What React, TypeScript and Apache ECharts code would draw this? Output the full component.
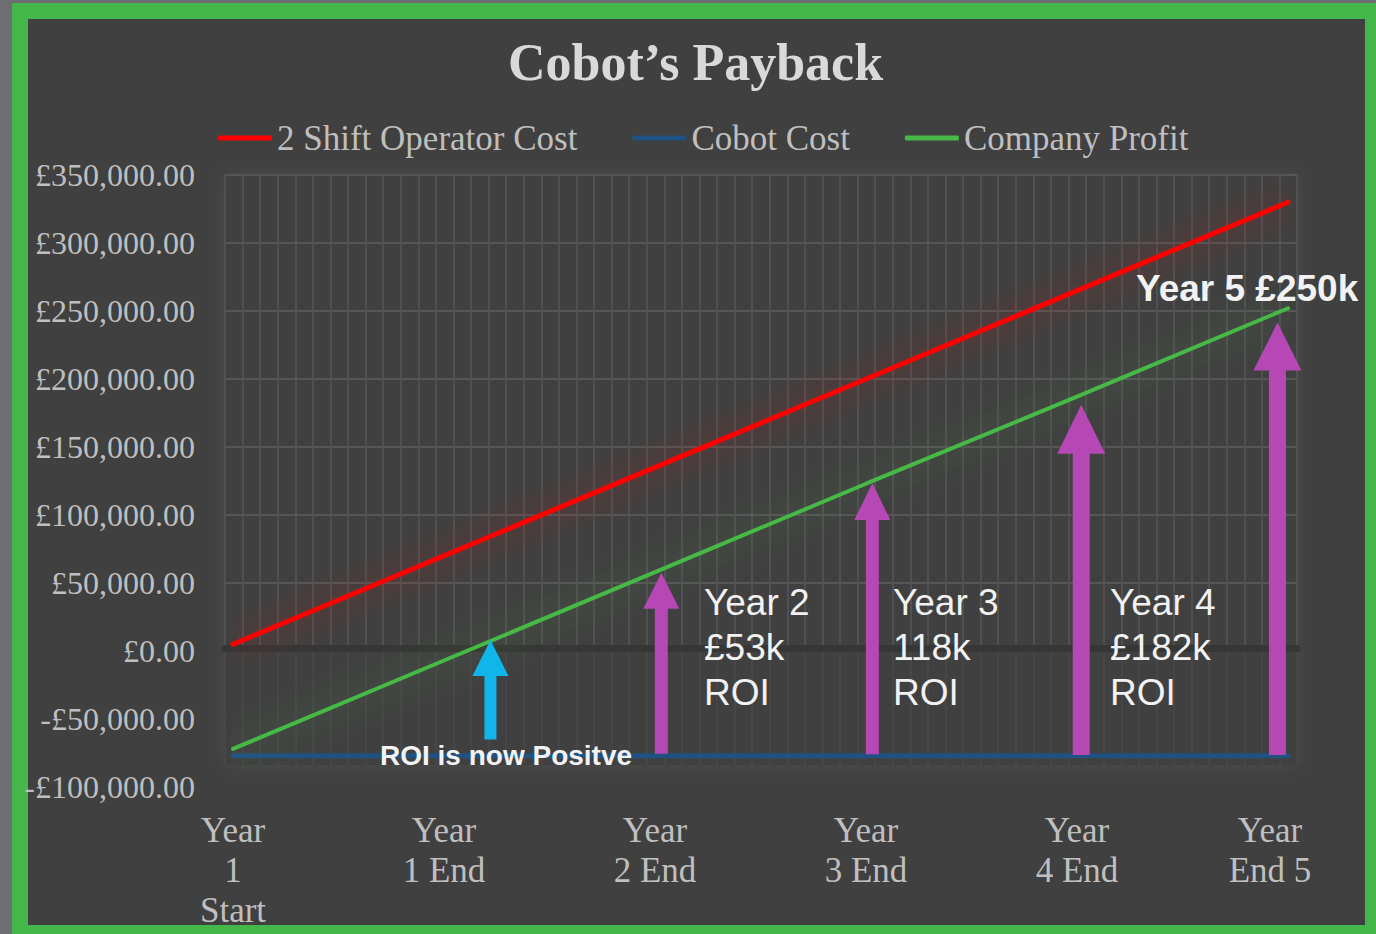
import React, { useEffect, useRef } from "react";
import * as echarts from "echarts";

const categories = ["Year\n1\nStart", "Year\n1 End", "Year\n2 End", "Year\n3 End", "Year\n4 End", "Year\nEnd 5"];
const seriesNames = ["2 Shift Operator Cost", "Cobot Cost", "Company Profit"];
const operatorCost = [5000, 70000, 135000, 200000, 265000, 330000];
const cobotCost = [-77000, -77000, -77000, -77000, -77000, -77000];
const companyProfit = [-72000, -7000, 58000, 123000, 187000, 252000];
const yTicks = { min: -100000, max: 350000, step: 50000 };

// annotation arrows: x position (in year units), start value, tip value
const arrowX = [1.22, 2.03, 3.03, 4.02, 4.95];
const arrowFrom = [-65000, -75500, -76000, -76500, -76500];
const arrowTo = [8000, 57500, 123500, 181000, 241500];

const annotationTexts = ["Year 2\n£53k\nROI", "Year 3\n118k\nROI", "Year 4\n£182k\nROI"];
const year5Text = "Year 5 £250k";
const roiText = "ROI is now Positve";

const SERIF = "'Liberation Serif', 'Times New Roman', serif";
const SANS = "'Liberation Sans', Arial, sans-serif";
const LABEL = "#bfbfbf";

const arrowColors = ["#10b6ea", "#b548b5", "#b548b5", "#b548b5", "#b548b5"];
const shaftW = [12, 13, 13, 17, 17];
const headW = [36, 36, 36, 48, 48];
const headH = [36, 36, 37, 49, 48];

function money(v: number) {
  const a = Math.abs(v);
  const s = String(Math.round(a)).replace(/\B(?=(\d{3})+(?!\d))/g, ",");
  return (v < 0 ? "-" : "") + "£" + s + ".00";
}

export default function App() {
  const ref = useRef<HTMLDivElement>(null);
  useEffect(() => {
    if (!ref.current) return;
    const chart = echarts.init(ref.current, undefined, { renderer: "svg" });
    const xs = categories.map((_, i) => i);
    const option: any = {
      animation: false,
      backgroundColor: "transparent",
      title: {
        text: "Cobot’s Payback",
        left: 508,
        top: 32,
        padding: 0,
        textStyle: { fontFamily: SERIF, fontSize: 52, fontWeight: "bold", color: "#d9d9d9", lineHeight: 60 },
      },
      legend: {
        data: seriesNames,
        left: 218,
        top: 119,
        padding: 0,
        icon: "roundRect",
        itemWidth: 54,
        itemHeight: 5,
        itemGap: 55,
        textStyle: { fontFamily: SERIF, fontSize: 35, color: LABEL, lineHeight: 38 },
      },
      graphic: [
        {
          type: "rect",
          z: -10,
          shape: { x: 225, y: 175, width: 1072, height: 590 },
          style: { fill: "#404040", shadowBlur: 18, shadowColor: "rgba(255,255,255,0.07)" },
          silent: true,
        },
        ...annotationTexts.map((t, i) => ({
          type: "text",
          left: [704, 893, 1110][i],
          top: 580,
          z: 50,
          style: { text: t, font: `37px ${SANS}`, fill: "#f2f2f2", lineHeight: 45 },
        })),
        {
          type: "text",
          left: 1136,
          top: 267,
          z: 50,
          style: { text: year5Text, font: `bold 37px ${SANS}`, fill: "#f2f2f2", lineHeight: 42 },
        },
        {
          type: "text",
          left: 380,
          top: 739,
          z: 50,
          style: { text: roiText, font: `bold 28px ${SANS}`, fill: "#f2f2f2", lineHeight: 32 },
        },
      ],
      grid: [
        { left: 233, right: 88, top: 175, bottom: 147 },
        { left: 225, right: 79, top: 175, height: 476 },
        { left: 225, right: 79, top: 651, height: 114 },
      ],
      xAxis: [
        {
          type: "value",
          gridIndex: 0,
          min: 0,
          max: 5,
          interval: 1,
          splitLine: { show: false },
          axisLine: { show: false },
          axisTick: { show: false },
          axisLabel: {
            margin: 23,
            fontFamily: SERIF,
            fontSize: 35,
            lineHeight: 40,
            color: LABEL,
            formatter: (v: number) => {
              const t = categories[Math.round(v)] ?? "";
              if (Math.round(v) === categories.length - 1) {
                return t.split("\n").map((s) => `{s|${s}}`).join("\n");
              }
              return t;
            },
            rich: {
              s: { fontFamily: SERIF, fontSize: 35, lineHeight: 40, color: LABEL, padding: [0, 36, 0, 0] },
            },
          },
        },
        {
          type: "value",
          gridIndex: 1,
          min: 0,
          max: 61,
          interval: 1,
          splitLine: { show: true, lineStyle: { color: "#565656", width: 1.5 } },
          axisLine: { show: true, onZero: false, lineStyle: { color: "#363636", width: 7 } },
          offset: -3,
          axisTick: { show: false },
          axisLabel: { show: false },
        },
        {
          type: "value",
          gridIndex: 2,
          min: 0,
          max: 61,
          interval: 1,
          splitLine: { show: true, lineStyle: { color: "#484848", width: 1.5 } },
          axisLine: { show: false },
          axisTick: { show: false },
          axisLabel: { show: false },
        },
      ],
      yAxis: [
        {
          type: "value",
          gridIndex: 0,
          min: yTicks.min,
          max: yTicks.max,
          interval: yTicks.step,
          splitLine: { show: false },
          axisLine: { show: false },
          axisTick: { show: false },
          axisLabel: { margin: 38, fontFamily: SERIF, fontSize: 32, color: LABEL, formatter: money },
        },
        {
          type: "value",
          gridIndex: 1,
          min: 0,
          max: yTicks.max,
          interval: yTicks.step,
          splitLine: { show: true, lineStyle: { color: "#565656", width: 2 } },
          axisLine: { show: false },
          axisTick: { show: false },
          axisLabel: { show: false },
        },
        {
          type: "value",
          gridIndex: 2,
          min: 0,
          max: 1,
          splitLine: { show: false },
          axisLine: { show: false },
          axisTick: { show: false },
          axisLabel: { show: false },
        },
      ],
      series: [
        {
          name: seriesNames[0],
          type: "line",
          xAxisIndex: 0,
          yAxisIndex: 0,
          data: xs.map((x, i) => [x, operatorCost[i]]),
          showSymbol: false,
          color: "#ff0000",
          lineStyle: { color: "#ff0000", width: 5, cap: "round", shadowColor: "rgba(255,0,0,0.5)", shadowBlur: 30 },
          z: 5,
        },
        {
          name: seriesNames[1],
          type: "line",
          xAxisIndex: 0,
          yAxisIndex: 0,
          data: xs.map((x, i) => [x, cobotCost[i]]),
          showSymbol: false,
          color: "#1f5283",
          lineStyle: { color: "#1f5283", width: 5, cap: "round" },
          z: 4,
        },
        {
          name: seriesNames[2],
          type: "line",
          xAxisIndex: 0,
          yAxisIndex: 0,
          data: xs.map((x, i) => [x, companyProfit[i]]),
          showSymbol: false,
          color: "#46b946",
          lineStyle: { color: "#46b946", width: 4, cap: "round", shadowColor: "rgba(90,200,90,0.45)", shadowBlur: 30 },
          z: 5,
        },
        {
          type: "custom",
          xAxisIndex: 0,
          yAxisIndex: 0,
          z: 10,
          clip: false,
          data: arrowX.map((x, i) => [x, arrowFrom[i], arrowTo[i]]),
          renderItem: (params: any, api: any) => {
            const i = params.dataIndex;
            const x = api.value(0);
            const pb = api.coord([x, api.value(1)]);
            const pt = api.coord([x, api.value(2)]);
            const sw = shaftW[i];
            const hw = headW[i];
            const hh = headH[i];
            const fill = arrowColors[i];
            return {
              type: "group",
              children: [
                {
                  type: "rect",
                  shape: { x: pb[0] - sw / 2, y: pt[1] + hh - 1, width: sw, height: pb[1] - pt[1] - hh + 1 },
                  style: { fill },
                },
                {
                  type: "polygon",
                  shape: { points: [[pt[0], pt[1]], [pt[0] - hw / 2, pt[1] + hh], [pt[0] + hw / 2, pt[1] + hh]] },
                  style: { fill },
                },
              ],
            };
          },
        },
      ],
    };
    chart.setOption(option);
    return () => chart.dispose();
  }, []);

  return (
    <div style={{ position: "fixed", left: 0, top: 0, width: 1376, height: 934, background: "#6d6e71" }}>
      <div style={{ position: "absolute", left: 12, top: 3, width: 1364, height: 931, background: "#45b649" }} />
      <div style={{ position: "absolute", left: 28, top: 19, width: 1337, height: 906, background: "#404040" }} />
      <div ref={ref} style={{ position: "absolute", left: 0, top: 0, width: 1376, height: 934 }} />
    </div>
  );
}
